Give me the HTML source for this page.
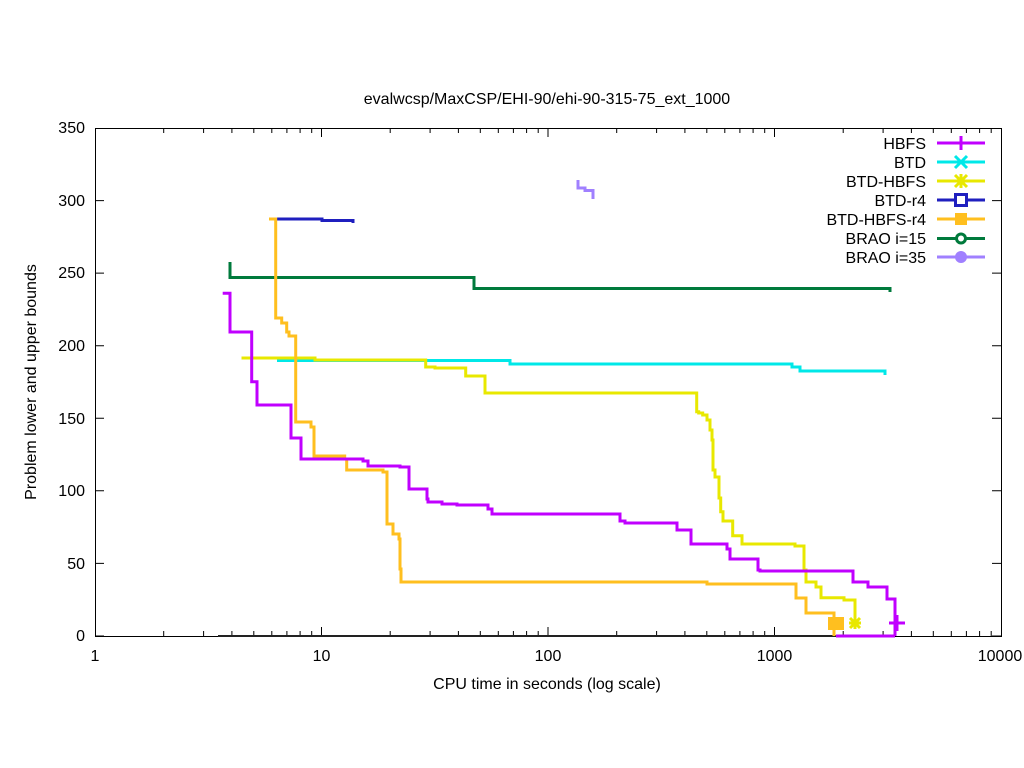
<!DOCTYPE html>
<html><head><meta charset="utf-8"><style>body{margin:0;background:#fff}svg{display:block}text{font-family:"Liberation Sans",sans-serif;font-size:16px;fill:#000}</style></head>
<body>
<svg width="1024" height="768" viewBox="0 0 1024 768" xmlns="http://www.w3.org/2000/svg">
<rect width="1024" height="768" fill="#fff"/>
<g stroke="#000" stroke-width="1" fill="none">
<rect x="95.5" y="128.5" width="906" height="508"/>
<path d="M95 636h9M95 563.4h9M95 490.8h9M95 418.3h9M95 345.7h9M95 273.1h9M95 200.6h9M95 128.5h9M1001 636h-9M1001 563.4h-9M1001 490.8h-9M1001 418.3h-9M1001 345.7h-9M1001 273.1h-9M1001 200.6h-9M1001 128.5h-9"/>
<path d="M95.5 636v-9M321.5 636v-9M548 636v-9M774.5 636v-9M95.5 128v9M321.5 128v9M548 128v9M774.5 128v9"/>
<path d="M163.7 636v-5M203.6 636v-5M231.9 636v-5M253.8 636v-5M271.8 636v-5M286.9 636v-5M300.1 636v-5M311.7 636v-5M390.2 636v-5M430.1 636v-5M458.4 636v-5M480.3 636v-5M498.3 636v-5M513.4 636v-5M526.6 636v-5M538.2 636v-5M616.7 636v-5M656.6 636v-5M684.9 636v-5M706.8 636v-5M724.8 636v-5M739.9 636v-5M753.1 636v-5M764.7 636v-5M843.2 636v-5M883.1 636v-5M911.4 636v-5M933.3 636v-5M951.3 636v-5M966.4 636v-5M979.6 636v-5M991.2 636v-5"/>
<path d="M163.7 128v5M203.6 128v5M231.9 128v5M253.8 128v5M271.8 128v5M286.9 128v5M300.1 128v5M311.7 128v5M390.2 128v5M430.1 128v5M458.4 128v5M480.3 128v5M498.3 128v5M513.4 128v5M526.6 128v5M538.2 128v5M616.7 128v5M656.6 128v5M684.9 128v5M706.8 128v5M724.8 128v5M739.9 128v5M753.1 128v5M764.7 128v5M843.2 128v5M883.1 128v5M911.4 128v5M933.3 128v5M951.3 128v5M966.4 128v5M979.6 128v5M991.2 128v5"/>
</g>
<g text-anchor="end">
<text x="85" y="641">0</text><text x="85" y="569">50</text><text x="85" y="496">100</text><text x="85" y="424">150</text><text x="85" y="351">200</text><text x="85" y="278">250</text><text x="85" y="206">300</text><text x="85" y="133">350</text>
</g>
<g text-anchor="middle">
<text x="95" y="661">1</text><text x="321.5" y="661">10</text><text x="548" y="661">100</text><text x="774.5" y="661">1000</text><text x="1000" y="661">10000</text>
<text x="547" y="689">CPU time in seconds (log scale)</text>
<text x="547" y="104">evalwcsp/MaxCSP/EHI-90/ehi-90-315-75_ext_1000</text>
<text transform="translate(36,382) rotate(-90)">Problem lower and upper bounds</text>
</g>
<g fill="none" stroke-width="3">
<path stroke="#222" stroke-width="2" d="M218 636H895"/>
<path stroke="#00e8e8" d="M277 360.5H510V364H792V367H800V371H885V375"/>
<path stroke="#1f1fbf" d="M276 219H322V220.5H353V223"/>
<path stroke="#007a3c" d="M230 262V277.5H474V288.5H890V292"/>
<path stroke="#a080ff" d="M578 180V188H585V190.5H593V199"/>
<path stroke="#e8e800" d="M241.5 358H315V360H425.7V367H435V368H465.7V376H485V393H696.7V411.7H698.7V413H702.7V415H707V420H710V430H712V440H713V470H715V477H719V498H720.7V511.7H723V521H732.7V535.7H742V544H795V546H804V570H806V582H816V587H821V597.7H844V600H855V623"/>
<path stroke="#ffbf1f" d="M269 219H275.7V318H281.7V323H286.7V332H289V336H295.7V422H311V427H314V456H344.7V459H346.7V470H383V472H387V524H393V534H399V539H400V569H401V582H707V584H796V598H806V613H834V636"/>
<path stroke="#c000ff" d="M222.7 293.3H230V332H251.7V381.7H257V405H291V438H301V459H363V461H368V466H400V467H409V489H427V499H428V502H442V504H457V505H488V509H492V514H620V521H625V523H677V530H691V544H727V549H730V559H758V570H760V571H853V582H868V587H887V599H895V636"/>
<path stroke="#c000ff" d="M836 636H895"/>
</g>
<rect x="828" y="617" width="16" height="13" fill="#ffbf1f"/>
<g stroke="#e8e800" stroke-width="3"><path d="M849 623h12M855 617v12M850 618l10 10M860 618l-10 10"/></g>
<g stroke="#c000ff" stroke-width="3"><path d="M889 623h16M897 615v16"/></g>
<g text-anchor="end">
<text x="926" y="149">HBFS</text><text x="926" y="168">BTD</text><text x="926" y="187">BTD-HBFS</text><text x="926" y="206">BTD-r4</text><text x="926" y="225">BTD-HBFS-r4</text><text x="926" y="244">BRAO i=15</text><text x="926" y="263">BRAO i=35</text>
</g>
<g stroke-width="3" fill="none">
<path stroke="#c000ff" d="M937 143h48M961 136v14"/>
<path stroke="#00e8e8" d="M937 162h48M955 156l12 12M967 156l-12 12"/>
<path stroke="#e8e800" d="M937 181h48M955 175l12 12M967 175l-12 12M961 174v14"/>
<path stroke="#1f1fbf" d="M937 200h48"/><rect x="955.5" y="194.5" width="11" height="11" stroke="#1f1fbf" fill="#fff"/>
<path stroke="#ffbf1f" d="M937 219h48"/>
<path stroke="#007a3c" d="M937 238.5h48"/><circle cx="961" cy="238.5" r="4.5" stroke="#007a3c" fill="#fff"/>
<path stroke="#a080ff" d="M937 257h48"/>
</g>
<rect x="955" y="213" width="12" height="12" fill="#ffbf1f"/>
<circle cx="961" cy="257" r="6" fill="#a080ff"/>
</svg>
</body></html>
